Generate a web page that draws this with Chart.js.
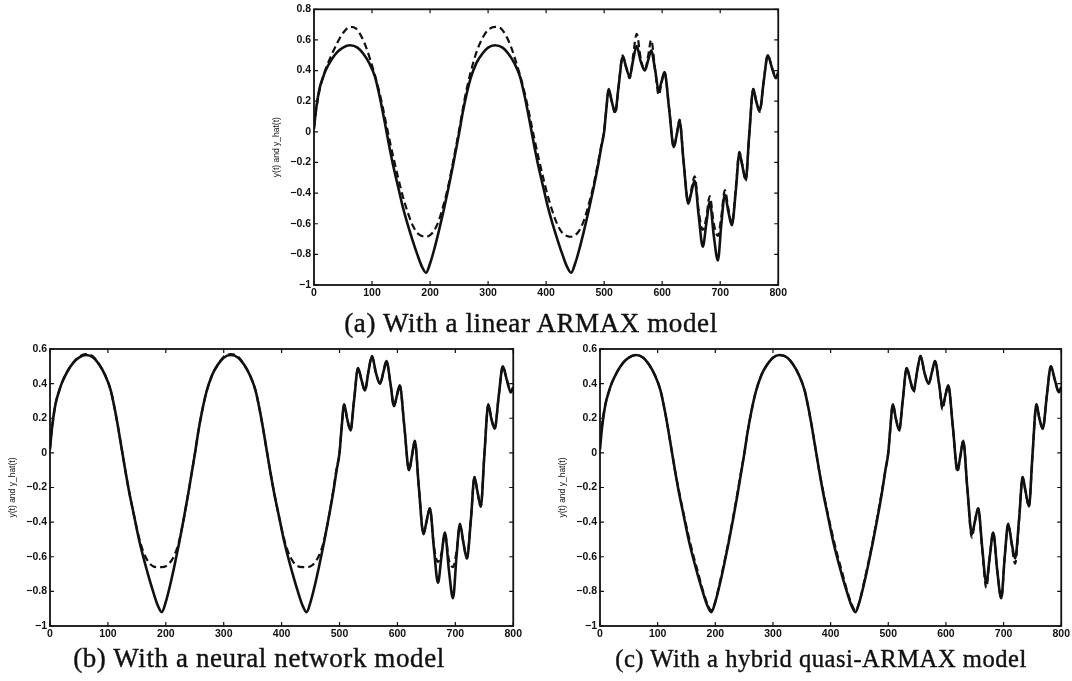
<!DOCTYPE html>
<html>
<head>
<meta charset="utf-8">
<script src="https://cdn.jsdelivr.net/npm/chart.js@4.4.1/dist/chart.umd.min.js"></script>
<style>
  html, body { margin: 0; padding: 0; background: #fff; }
  body { position: relative; width: 1072px; height: 681px; overflow: hidden; }
  canvas { position: absolute; }
  .caption {
    position: absolute;
    font-family: 'Liberation Serif', 'DejaVu Serif', serif;
    font-size: 27px;
    letter-spacing: 0.6px;
    line-height: 1;
    color: #111;
    -webkit-text-stroke: 0.4px #111;
    white-space: nowrap;
    transform: translateX(-50%);
  }
  .caption.small { font-size: 24.6px; letter-spacing: 0.5px; }
</style>
</head>
<body>
<canvas id="chart-armax" width="525" height="305" style="left:264px;top:0px"></canvas>
<canvas id="chart-neural" width="524" height="310" style="left:0px;top:335px"></canvas>
<canvas id="chart-hybrid" width="522" height="310" style="left:550px;top:335px"></canvas>
<div class="caption" style="left:531px;top:310px">(a) With a linear ARMAX model</div>
<div class="caption" style="left:259px;top:645px">(b) With a neural network model</div>
<div class="caption small" style="left:821px;top:647px">(c) With a hybrid quasi-ARMAX model</div>
<script>
// measured output y(t), same in all three plots
const T_ACTUAL = [0, 3, 6, 10, 15, 20, 30, 40, 50, 62, 75, 85, 95, 105, 112, 118, 124, 130, 137, 145,
  153, 161, 170, 178, 186, 193, 200, 207, 215, 223, 231, 239, 245, 250, 256, 262, 270, 280, 290, 300,
  312, 325, 335, 345, 355, 362, 368, 374, 380, 387, 395, 403, 411, 420, 428, 436, 443, 450, 457, 465,
  473, 481, 489, 495, 500, 503, 508, 513, 519, 525, 532, 538, 544, 550, 556, 563, 570, 576, 581, 588,
  594, 599, 604, 612, 620, 625, 630, 637, 645, 650, 656, 663, 670, 676, 682, 689, 696, 702, 708, 714,
  720, 727, 733, 738, 744, 750, 757, 762, 768, 775, 782, 789, 796, 800];
const Y_ACTUAL = [0.02, 0.13, 0.21, 0.29, 0.35, 0.40, 0.47, 0.52, 0.55, 0.565, 0.55, 0.51, 0.45, 0.36, 0.25, 0.14, 0.02, -0.10, -0.23, -0.36,
  -0.49, -0.60, -0.71, -0.80, -0.88, -0.92, -0.86, -0.77, -0.65, -0.52, -0.38, -0.23, -0.11, -0.01, 0.12, 0.23, 0.35, 0.45, 0.51, 0.55,
  0.565, 0.55, 0.51, 0.45, 0.36, 0.25, 0.14, 0.02, -0.10, -0.23, -0.36, -0.49, -0.60, -0.71, -0.80, -0.88, -0.92, -0.86, -0.77, -0.65,
  -0.52, -0.38, -0.23, -0.10, 0.00, 0.12, 0.28, 0.20, 0.13, 0.30, 0.49, 0.42, 0.36, 0.47, 0.56, 0.46, 0.40, 0.47, 0.53, 0.40,
  0.27, 0.33, 0.39, 0.15, -0.10, -0.02, 0.07, -0.20, -0.47, -0.40, -0.32, -0.55, -0.75, -0.60, -0.46, -0.68, -0.84, -0.60, -0.41, -0.52,
  -0.61, -0.38, -0.14, -0.22, -0.31, -0.02, 0.28, 0.20, 0.14, 0.33, 0.50, 0.42, 0.35, 0.38];

// linear ARMAX prediction
const T_ARMAX = [0, 3, 6, 10, 15, 20, 30, 40, 50, 62, 72, 82, 90, 97, 105, 112, 118, 124, 130, 137,
  145, 153, 161, 170, 178, 186, 193, 200, 207, 215, 223, 231, 239, 245, 250, 256, 262, 270, 280, 290,
  300, 312, 322, 332, 340, 347, 355, 362, 368, 374, 380, 387, 395, 403, 411, 420, 428, 436, 443, 450,
  457, 465, 473, 481, 489, 495, 500, 503, 508, 513, 519, 525, 532, 538, 544, 550, 556, 563, 570, 576,
  581, 588, 594, 599, 604, 612, 620, 625, 630, 637, 645, 650, 656, 663, 670, 676, 682, 689, 696, 702,
  708, 714, 720, 727, 733, 738, 744, 750, 757, 762, 768, 775, 782, 789, 796, 800];
const Y_ARMAX = [0.03, 0.12, 0.20, 0.28, 0.35, 0.41, 0.50, 0.58, 0.645, 0.685, 0.675, 0.62, 0.55, 0.47, 0.37, 0.27, 0.17, 0.06, -0.05, -0.17,
  -0.30, -0.42, -0.52, -0.61, -0.66, -0.68, -0.685, -0.675, -0.645, -0.58, -0.48, -0.36, -0.21, -0.09, 0.01, 0.14, 0.26, 0.39, 0.52, 0.61,
  0.665, 0.685, 0.675, 0.62, 0.55, 0.47, 0.37, 0.27, 0.17, 0.06, -0.05, -0.17, -0.30, -0.42, -0.52, -0.61, -0.66, -0.68, -0.685, -0.675,
  -0.645, -0.58, -0.48, -0.36, -0.21, -0.09, 0.01, 0.12, 0.27, 0.20, 0.12, 0.30, 0.50, 0.42, 0.35, 0.50, 0.64, 0.48, 0.40, 0.50,
  0.60, 0.40, 0.24, 0.32, 0.39, 0.15, -0.10, -0.02, 0.08, -0.20, -0.46, -0.38, -0.29, -0.52, -0.64, -0.56, -0.42, -0.60, -0.68, -0.55,
  -0.38, -0.50, -0.60, -0.36, -0.13, -0.21, -0.32, -0.02, 0.28, 0.20, 0.13, 0.33, 0.50, 0.42, 0.36, 0.39];

// neural network prediction
const T_NEURAL = T_ACTUAL;
const Y_NEURAL = [0.03, 0.13, 0.21, 0.29, 0.35, 0.40, 0.47, 0.52, 0.555, 0.57, 0.555, 0.51, 0.45, 0.36, 0.25, 0.14, 0.02, -0.10, -0.23, -0.36,
  -0.48, -0.57, -0.63, -0.655, -0.66, -0.66, -0.655, -0.635, -0.59, -0.51, -0.38, -0.23, -0.11, -0.01, 0.12, 0.23, 0.35, 0.45, 0.51, 0.555,
  0.57, 0.555, 0.51, 0.45, 0.36, 0.25, 0.14, 0.02, -0.10, -0.23, -0.36, -0.48, -0.57, -0.63, -0.655, -0.66, -0.66, -0.655, -0.635, -0.59,
  -0.51, -0.38, -0.22, -0.09, 0.00, 0.12, 0.28, 0.20, 0.13, 0.30, 0.49, 0.42, 0.36, 0.47, 0.56, 0.46, 0.40, 0.47, 0.53, 0.40,
  0.27, 0.33, 0.39, 0.15, -0.10, -0.02, 0.07, -0.20, -0.47, -0.40, -0.32, -0.54, -0.63, -0.58, -0.47, -0.62, -0.66, -0.57, -0.42, -0.52,
  -0.61, -0.38, -0.14, -0.22, -0.31, -0.02, 0.28, 0.20, 0.14, 0.33, 0.50, 0.42, 0.35, 0.38];

// hybrid quasi-ARMAX prediction
const T_HYBRID = T_ACTUAL;
const Y_HYBRID = [0.08, 0.15, 0.22, 0.29, 0.35, 0.40, 0.47, 0.52, 0.55, 0.565, 0.55, 0.51, 0.45, 0.36, 0.25, 0.14, 0.02, -0.10, -0.22, -0.35,
  -0.47, -0.58, -0.69, -0.79, -0.87, -0.91, -0.86, -0.76, -0.64, -0.51, -0.37, -0.22, -0.10, -0.01, 0.12, 0.23, 0.35, 0.45, 0.51, 0.55,
  0.565, 0.55, 0.51, 0.45, 0.36, 0.25, 0.14, 0.02, -0.10, -0.22, -0.35, -0.47, -0.58, -0.69, -0.79, -0.87, -0.91, -0.86, -0.76, -0.64,
  -0.51, -0.37, -0.22, -0.10, 0.00, 0.12, 0.28, 0.20, 0.14, 0.30, 0.49, 0.42, 0.35, 0.47, 0.56, 0.46, 0.40, 0.47, 0.53, 0.40,
  0.25, 0.33, 0.39, 0.15, -0.11, -0.02, 0.07, -0.20, -0.49, -0.40, -0.32, -0.56, -0.78, -0.60, -0.46, -0.68, -0.84, -0.60, -0.41, -0.53,
  -0.64, -0.38, -0.14, -0.22, -0.31, -0.02, 0.28, 0.20, 0.14, 0.33, 0.50, 0.42, 0.35, 0.38];

const X_TICKS = [0, 100, 200, 300, 400, 500, 600, 700, 800];
const Y_LABEL = 'y(t) and y_hat(t)';
const INK = '#111';
const TICK_LEN = 4;

function toPoints(ts, ys) {
  return ts.map((t, i) => ({ x: t, y: ys[i] }));
}

function formatTick(v) {
  const r = Math.round(v * 10) / 10;
  return r < 0 ? '\u2212' + String(-r) : String(r);
}

// MATLAB-style box with ticks pointing into the plot
const boxTicks = {
  id: 'boxTicks',
  afterDatasetsDraw(chart) {
    const { ctx, chartArea: a, scales } = chart;
    ctx.save();
    ctx.strokeStyle = INK;
    ctx.lineWidth = 1.2;
    ctx.beginPath();
    scales.x.ticks.forEach((t) => {
      const px = scales.x.getPixelForValue(t.value);
      ctx.moveTo(px, a.bottom); ctx.lineTo(px, a.bottom - TICK_LEN);
      ctx.moveTo(px, a.top); ctx.lineTo(px, a.top + TICK_LEN);
    });
    scales.y.ticks.forEach((t) => {
      const py = scales.y.getPixelForValue(t.value);
      ctx.moveTo(a.left, py); ctx.lineTo(a.left + TICK_LEN, py);
      ctx.moveTo(a.right, py); ctx.lineTo(a.right - TICK_LEN, py);
    });
    ctx.stroke();
    ctx.lineWidth = 1.8;
    ctx.strokeRect(a.left, a.top, a.right - a.left, a.bottom - a.top);
    ctx.restore();
  },
};

function drawPanel(id, yMax, predTs, predYs, pad) {
  const tickFont = { family: 'Liberation Sans', size: 10.5, weight: 'bold' };
  return new Chart(document.getElementById(id), {
    type: 'line',
    data: {
      datasets: [
        {
          label: 'y(t)',
          data: toPoints(T_ACTUAL, Y_ACTUAL),
          borderColor: INK,
          borderWidth: 2.6,
          pointRadius: 0,
          cubicInterpolationMode: 'monotone',
          fill: false,
        },
        {
          label: 'y_hat(t)',
          data: toPoints(predTs, predYs),
          borderColor: INK,
          borderWidth: 2.2,
          borderDash: [7, 4],
          pointRadius: 0,
          cubicInterpolationMode: 'monotone',
          fill: false,
        },
      ],
    },
    options: {
      responsive: false,
      animation: false,
      events: [],
      layout: { autoPadding: false, padding: pad },
      plugins: { legend: { display: false }, tooltip: { enabled: false } },
      scales: {
        x: {
          type: 'linear',
          min: 0,
          max: 800,
          afterBuildTicks: (scale) => { scale.ticks = X_TICKS.map((v) => ({ value: v })); },
          afterFit: (scale) => { scale.height = pad.xHeight; },
          grid: { display: false, drawTicks: false },
          border: { display: false },
          ticks: { color: INK, font: tickFont, padding: 2, maxRotation: 0, autoSkip: false },
        },
        y: {
          type: 'linear',
          min: -1,
          max: yMax,
          afterFit: (scale) => { scale.width = 50; },
          grid: { display: false, drawTicks: false },
          border: { display: false },
          ticks: {
            color: INK,
            font: tickFont,
            padding: 3,
            stepSize: 0.2,
            autoSkip: false,
            callback: (v) => formatTick(v),
          },
          title: {
            display: true,
            text: Y_LABEL,
            color: INK,
            font: { family: 'Liberation Sans', size: 8.5 },
            padding: { top: 8, bottom: 0 },
          },
        },
      },
    },
    plugins: [boxTicks],
  });
}

drawPanel('chart-armax', 0.8, T_ARMAX, Y_ARMAX, { top: 9, right: 10, left: 0, bottom: 0, xHeight: 20 });
drawPanel('chart-neural', 0.6, T_NEURAL, Y_NEURAL, { top: 14, right: 10, left: 0, bottom: 0, xHeight: 19 });
drawPanel('chart-hybrid', 0.6, T_HYBRID, Y_HYBRID, { top: 14, right: 9, left: 0, bottom: 0, xHeight: 19 });
</script>
</body>
</html>
